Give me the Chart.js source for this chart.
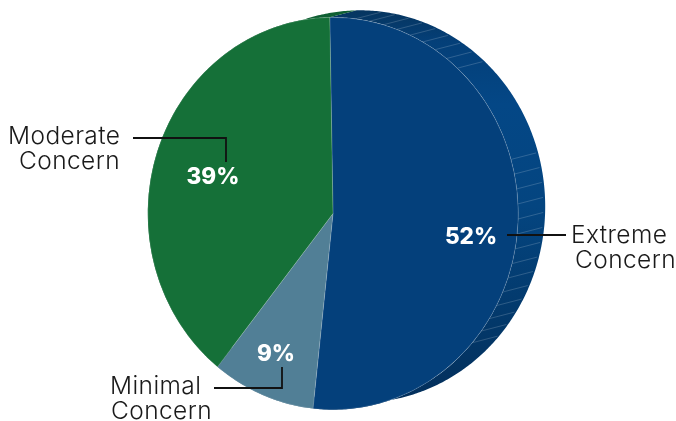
<!DOCTYPE html>
<html lang="en">
<head>
<meta charset="UTF-8">
<title>Level of concern</title>
<script src="https://cdn.jsdelivr.net/npm/chart.js@4"></script>
<style>
    html, body { margin: 0; padding: 0; background: #fff; }
    #box { width: 676px; height: 421px; }
</style>
</head>
<body>
<div id="box"><canvas id="pie"></canvas></div>
<script>
const categories = ['Extreme Concern', 'Minimal Concern', 'Moderate Concern'];
const values = [52, 9, 39];
const colors = ['#04407b', '#517f96', '#157038'];
const sideColors = [null, '#3f6a80', '#0f5f33'];

// the pie is slightly taller than wide, and has a side wall behind it
const STRETCH = 196.5 / 185.5;
const DEPTH = [27, -7];
const RIB_RANGES = [[-83, -46], [-16, 44]];
const RIB_STEP = 4.4;
const FONT = 'Inter, sans-serif';

const pct = [
    { text: '52%', x: 471, y: 237 },
    { text: '9%', x: 276, y: 354 },
    { text: '39%', x: 213, y: 177 }
];
const names = [
    { lines: ['Extreme', 'Concern'], x: [571, 575], y: [236, 261] },
    { lines: ['Minimal', 'Concern'], x: [110, 111], y: [387, 412] },
    { lines: ['Moderate', 'Concern'], x: [8, 19], y: [137, 162] }
];
const leaders = [
    [[507, 235], [566, 235]],
    [[214, 388], [282, 388], [282, 367]],
    [[133, 138], [226, 138], [226, 162]]
];

function sideGradient(ctx) {
    const g = ctx.createLinearGradient(0, 10, 0, 403);
    g.addColorStop(0, '#06355f');
    g.addColorStop(0.08, '#043f78');
    g.addColorStop(0.24, '#044786');
    g.addColorStop(0.5, '#044580');
    g.addColorStop(0.75, '#033a6d');
    g.addColorStop(1, '#032f5b');
    return g;
}

const pieShape = {
    id: 'pieShape',
    beforeDatasetsDraw(chart) {
        const ctx = chart.ctx;
        const arcs = chart.getDatasetMeta(0).data;
        const grad = sideGradient(ctx);
        const cx = arcs[0].x, cy = arcs[0].y, r = arcs[0].outerRadius;
        const pt = (a, back) => [
            cx + r * Math.cos(a) + (back ? DEPTH[0] : 0),
            cy + r * STRETCH * Math.sin(a) + (back ? DEPTH[1] : 0)
        ];

        // side wall, slice by slice
        arcs.forEach((arc, i) => {
            ctx.beginPath();
            for (let a = arc.startAngle; a < arc.endAngle; a += 0.01) {
                ctx.lineTo(...pt(a, false));
            }
            ctx.lineTo(...pt(arc.endAngle, false));
            ctx.lineTo(...pt(arc.endAngle, true));
            for (let a = arc.endAngle; a > arc.startAngle; a -= 0.01) {
                ctx.lineTo(...pt(a, true));
            }
            ctx.lineTo(...pt(arc.startAngle, true));
            ctx.closePath();
            ctx.fillStyle = sideColors[i] || grad;
            ctx.fill();
        });

        // ribs on the wall
        ctx.strokeStyle = 'rgba(255,255,255,0.22)';
        ctx.lineWidth = 0.8;
        RIB_RANGES.forEach(([from, to]) => {
            for (let d = from; d <= to; d += RIB_STEP) {
                const a = d * Math.PI / 180;
                const p = pt(a, false), q = pt(a, true);
                ctx.beginPath();
                ctx.moveTo(p[0], p[1]);
                ctx.lineTo(p[0] + (q[0] - p[0]) * 0.93, p[1] + (q[1] - p[1]) * 0.93);
                ctx.stroke();
            }
        });

        // the front face is the chart's own arcs, stretched about the centre
        ctx.save();
        ctx.translate(cx, cy);
        ctx.scale(1, STRETCH);
        ctx.translate(-cx, -cy);
    },
    afterDatasetsDraw(chart) {
        const ctx = chart.ctx;
        ctx.restore();

        ctx.strokeStyle = '#111';
        ctx.lineWidth = 1.8;
        leaders.forEach(l => {
            ctx.beginPath();
            l.forEach(p => ctx.lineTo(p[0], p[1]));
            ctx.stroke();
        });

        ctx.textBaseline = 'middle';
        ctx.textAlign = 'center';
        ctx.fillStyle = '#fff';
        ctx.font = '800 22.5px ' + FONT;
        pct.forEach(p => ctx.fillText(p.text, p.x, p.y));

        ctx.textAlign = 'left';
        ctx.fillStyle = '#1a1a1a';
        ctx.font = '300 24.5px ' + FONT;
        ctx.letterSpacing = '0.4px';
        names.forEach(n => n.lines.forEach((t, i) => ctx.fillText(t, n.x[i], n.y[i])));
        ctx.letterSpacing = '0px';
    }
};

new Chart(document.getElementById('pie'), {
    type: 'pie',
    data: {
        labels: categories,
        datasets: [{
            data: values,
            backgroundColor: colors,
            borderColor: 'rgba(255,255,255,0.25)',
            borderWidth: 0.6
        }]
    },
    options: {
        responsive: true,
        maintainAspectRatio: false,
        animation: false,
        rotation: -1.0,
        layout: { padding: { left: 147.5, right: 157.5, top: 28, bottom: 22 } },
        plugins: { legend: { display: false }, tooltip: { enabled: false } }
    },
    plugins: [pieShape]
});
</script>
</body>
</html>
